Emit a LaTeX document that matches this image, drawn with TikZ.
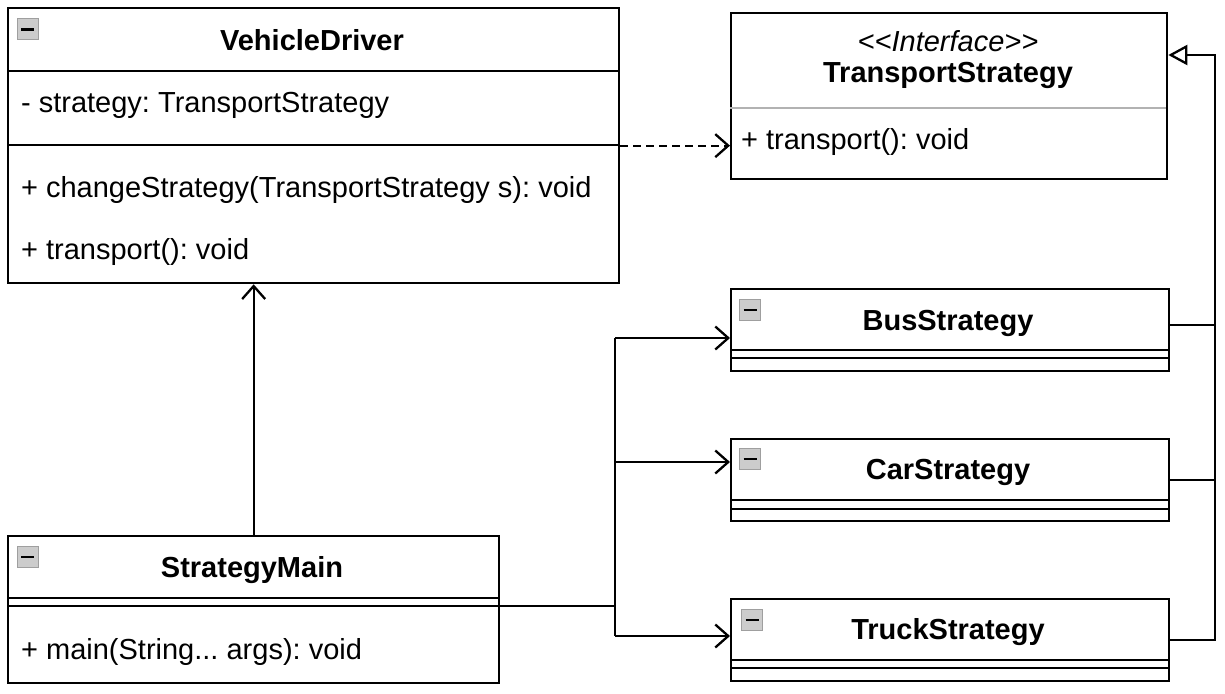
\documentclass[tikz,border=0pt]{standalone}
\usepackage{fontspec}
\setmainfont{Liberation Sans}
\usetikzlibrary{arrows.meta,calc}
\frenchspacing
\begin{document}
\begin{tikzpicture}[x=1pt,y=-1pt,line width=2.3pt,
  box/.style={draw,rectangle,anchor=north west,inner sep=0pt,fill=white},
  txt/.style={font=\fontsize{29}{34}\selectfont,inner sep=0pt,anchor=west},
  ttl/.style={font=\fontsize{29}{34}\selectfont\bfseries,inner sep=0pt},
  icon/.style={draw=gray!75,fill=gray!40,line width=1pt,minimum size=21pt,inner sep=0pt,
    path picture={\draw[black,line width=2.8pt]
      ([xshift=-6.5pt]path picture bounding box.center) -- ([xshift=6.5pt]path picture bounding box.center);}},
  openarr/.style={-{Straight Barb[length=13pt,width=23pt,line width=2.3pt]}},
  triarr/.style={-{Triangle[open,length=19pt,width=20pt,line width=2.3pt,fill=white]}},
  dep/.style={openarr,dash pattern=on 8pt off 5pt}
]
\useasboundingbox (0,0) rectangle (1225,693);
\fill[white] (0,0) rectangle (1225,693);

% VehicleDriver
\node[box,minimum width=611pt,minimum height=275pt] (vd) at (7,7) {};
\draw (7,71) -- (618,71);
\draw (7,145) -- (618,145);
\node[icon] (vdi) at (27.5,29.5) {};
\node[ttl] (vdt) at (312,40) {VehicleDriver};
\node[txt] (vda) at (20,105) {- strategy: TransportStrategy};
\node[txt] (vdm1) at (20,190) {+ changeStrategy(TransportStrategy s): void};
\node[txt] (vdm2) at (20,252) {+ transport(): void};

% TransportStrategy interface
\node[box,minimum width=436pt,minimum height=166pt] (ifc) at (730,12) {};
\draw[gray!60,line width=1.5pt] (730,108) -- (1166,108);
\node[font=\fontsize{29}{34}\selectfont\itshape,inner sep=0pt] (ifs) at (948,41) {<\kern0pt<Interface>\kern0pt>};
\node[ttl] (ift) at (948,75) {TransportStrategy};
\node[txt] (ifm) at (740,142) {+ transport(): void};

% BusStrategy
\node[box,minimum width=438pt,minimum height=82pt] (bus) at (730,288) {};
\draw (730,350) -- (1168,350);
\draw (730,358) -- (1168,358);
\node[icon] (busi) at (750,310) {};
\node[ttl] (bust) at (948,323) {BusStrategy};

% CarStrategy
\node[box,minimum width=438pt,minimum height=82pt] (car) at (730,438) {};
\draw (730,500) -- (1168,500);
\draw (730,509) -- (1168,509);
\node[icon] (cari) at (750,459) {};
\node[ttl] (cart) at (948,472) {CarStrategy};

% TruckStrategy
\node[box,minimum width=438pt,minimum height=82pt] (truck) at (730,598) {};
\draw (730,660) -- (1168,660);
\draw (730,668) -- (1168,668);
\node[icon] (trucki) at (752,620) {};
\node[ttl] (truckt) at (948,632) {TruckStrategy};

% StrategyMain
\node[box,minimum width=491pt,minimum height=147pt] (main) at (7,535) {};
\draw (7,598) -- (498,598);
\draw (7,606) -- (498,606);
\node[icon] (maini) at (27.5,557) {};
\node[ttl] (maint) at (252,570) {StrategyMain};
\node[txt] (mainm) at (20,652) {+ main(String... args): void};

% connectors
\coordinate (splitx) at (615,0);
\coordinate (busin) at (730,338);
\coordinate (carin) at (730,462);
\coordinate (truckin) at (730,636);
\coordinate (rail) at (1215,55);

\draw[openarr] (main.north) -- (main.north |- vd.south);
\draw[dep] (vd.east) -- (vd.east -| ifc.west);

\draw (main.east |- 0,606) -- (splitx |- 0,606);
\draw (busin -| splitx) -- (truckin -| splitx);
\draw[openarr] (busin -| splitx) -- (busin);
\draw[openarr] (carin -| splitx) -- (carin);
\draw[openarr] (truckin -| splitx) -- (truckin);

\draw (bus.east |- 0,325) -- (rail |- 0,325);
\draw (car.east) -- (car.east -| rail);
\draw[triarr] (truck.east) -| (rail) -- (rail -| ifc.east);
\end{tikzpicture}
\end{document}
